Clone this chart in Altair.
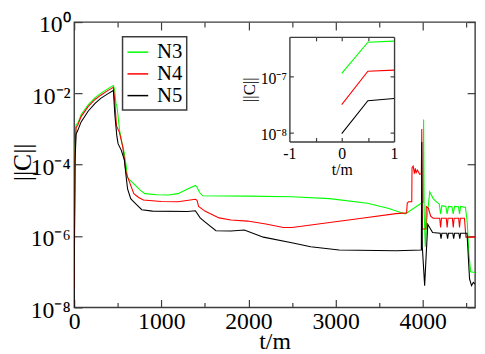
import altair as alt
import pandas as pd

# ---------------- data (t/m and log10 ||C||) ----------------
series_names = ["N3", "N4", "N5"]
series_colors = ["#00ff00", "#ff0000", "#000000"]

t3 = [0, 0.5, 1, 10, 22, 40, 80, 160, 240, 305,
      380, 450, 465, 480, 490, 500, 522, 550, 576, 595,
      613, 650, 703, 760, 812, 950, 1084, 1192, 1301, 1391,
      1410, 1440, 1475, 2000, 2497, 2932, 3366, 3600, 3801, 3982,
      4005, 4010, 4016, 4029, 4045, 4080, 4120, 4160, 4190, 4205,
      4220, 4265, 4280, 4295, 4335, 4350, 4365, 4410, 4422, 4435,
      4490, 4510, 4530, 4550, 4600]
logc3 = [-6.94, -6.38, -6.36, -3.6, -2.87, -2.85, -2.6, -2.32, -2.12, -2.0,
         -1.88, -1.78, -1.9, -2.3, -2.35, -2.55, -3.05, -3.4, -3.68, -4.0,
         -4.36, -4.45, -4.58, -4.72, -4.81, -4.84, -4.85, -4.81, -4.68, -4.58,
         -4.63, -4.78, -4.87, -4.88, -4.90, -4.95, -5.08, -5.22, -5.38, -5.08,
         -5.05, -2.73, -5.3, -6.30, -5.6, -4.76, -4.95, -5.05, -5.1, -5.38,
         -5.15, -5.17, -5.38, -5.17, -5.18, -5.38, -5.17, -5.18, -5.38, -5.17,
         -5.2, -5.6, -6.5, -7.0, -7.02]

t4 = [0, 0.5, 1, 10, 22, 40, 80, 160, 240, 305,
      380, 450, 465, 486, 520, 558, 595, 649, 685, 740,
      794, 1000, 1192, 1391, 1410, 1428, 1500, 1663, 1800, 1989,
      2200, 2400, 2500, 2932, 3300, 3692, 3815, 3822, 3837, 3874,
      3877, 3890, 3905, 3915, 3925, 3940, 3964, 3984, 3989, 3993,
      4036, 4040, 4065, 4091, 4120, 4195, 4205, 4215, 4270, 4280,
      4290, 4340, 4350, 4360, 4412, 4422, 4432, 4479, 4495, 4600]
logc4 = [-7.50, -6.90, -6.88, -3.7, -2.95, -2.9, -2.65, -2.37, -2.17, -2.05,
         -1.93, -1.83, -2.2, -2.91, -3.1, -3.5, -4.22, -4.58, -4.81, -4.92,
         -4.99, -5.03, -5.04, -4.97, -5.0, -5.17, -5.3, -5.49, -5.55, -5.58,
         -5.66, -5.76, -5.76, -5.62, -5.5, -5.37, -5.35, -5.08, -5.04, -5.04,
         -4.08, -4.04, -4.25, -4.1, -4.22, -4.15, -4.27, -4.25, -3.0, -5.80,
         -5.80, -5.17, -5.22, -5.44, -5.5, -5.5, -5.76, -5.5, -5.5, -5.76,
         -5.5, -5.5, -5.76, -5.5, -5.5, -5.76, -5.5, -5.5, -6.03, -6.03]

t5 = [0, 0.5, 1, 10, 22, 40, 80, 160, 240, 305,
      380, 450, 467, 490, 504, 540, 576, 595, 613, 649,
      667, 722, 776, 900, 1301, 1391, 1446, 1500, 1627, 1800,
      1953, 2171, 2497, 2714, 3041, 3692, 3984, 3989, 3995, 4022,
      4040, 4058, 4113, 4200, 4210, 4220, 4275, 4285, 4295, 4345,
      4355, 4365, 4415, 4425, 4435, 4508, 4537, 4560, 4580, 4600]
logc5 = [-8.02, -7.43, -7.39, -3.9, -3.14, -3.05, -2.8, -2.5, -2.28, -2.14,
         -2.02, -1.92, -2.6, -3.2, -3.41, -3.59, -3.86, -4.3, -4.68, -4.95,
         -5.0, -5.13, -5.26, -5.3, -5.31, -5.29, -5.49, -5.6, -5.85, -5.86,
         -5.83, -6.03, -6.19, -6.30, -6.39, -6.41, -6.39, -3.36, -6.3, -7.39,
         -6.5, -5.67, -5.9, -5.92, -6.07, -5.92, -5.92, -6.07, -5.92, -5.92,
         -6.07, -5.92, -5.92, -6.07, -5.92, -5.92, -7.2, -7.39, -7.3, -7.35]

# tick values / labels
x_major = [0, 1000, 2000, 3000, 4000]
x_minor = [500, 1500, 2500, 3500, 4500]
y_major = [1e-8, 1e-6, 1e-4, 1e-2, 1]
y_major_labels = ["10⁻⁸", "10⁻⁶", "10⁻⁴", "10⁻²", "10⁰"]
inset_x_major = [-1, 0, 1]
inset_x_labels = ["-1", "0", "1"]
inset_x_ticks = [-0.5, 0, 0.5]
inset_y_major = [1e-8, 1e-7]
inset_y_labels = ["10⁻⁸", "10⁻⁷"]

rows = []
for name, ts, ls in [("N3", t3, logc3), ("N4", t4, logc4), ("N5", t5, logc5)]:
    for i, (t, l) in enumerate(zip(ts, ls)):
        rows.append({"series": name, "t": t, "C": 10.0 ** l, "i": i})
df = pd.DataFrame(rows)

# ---------------- layout ----------------
W, H = 406, 289
PAD_L, PAD_T = 67, 12
# inset box, in plot pixels
ix0, ix1 = 218, 324
iy0, iy1 = 15, 121
FONT = "Liberation Serif"
FRAME = "#3c3c3c"


def chain_expr(values, labels, log):
    expr = "'" + labels[-1] + "'"
    for v, lab in zip(reversed(values[:-1]), reversed(labels[:-1])):
        thr = v * 3 if log else v + 0.5
        expr = f"datum.value < {thr:g} ? '{lab}' : ({expr})"
    return expr


xs_main = alt.Scale(domain=[0, 4600], nice=False, zero=False)
ys_main = alt.Scale(type="log", domain=[1e-8, 1], nice=False)
xs_in = alt.Scale(domain=[-1, 1], range=[ix0, ix1], nice=False, zero=False)
ys_in = alt.Scale(type="log", domain=[6.9e-9, 5.2e-7], range=[iy1, iy0], nice=False)

color_enc = alt.Color(
    "series:N",
    scale=alt.Scale(domain=series_names, range=series_colors),
    legend=alt.Legend(
        orient="none", legendX=49, legendY=15, title=None,
        labelFont=FONT, labelFontSize=21, labelColor="black",
        symbolType="stroke", symbolSize=441, symbolStrokeWidth=1.5,
        strokeColor=FRAME, fillColor="white", padding=4, rowPadding=-1,
        labelOffset=8,
    ),
)

base = alt.Chart(df)

main = base.mark_line(strokeWidth=1.1, clip=True).encode(
    x=alt.X("t:Q", scale=xs_main, axis=alt.Axis(
        values=x_major, format="d", ticks=False, tickSize=0, domain=False,
        labelFont=FONT, labelFontSize=24, labelPadding=2, labelFlush=False,
        labelOverlap=False, titleFont=FONT,
        title="t/m", titleFontSize=24, titleX=W / 2, titleY=23,
        titleAlign="center", titleBaseline="top")),
    y=alt.Y("C:Q", scale=ys_main, axis=alt.Axis(
        values=y_major, labelExpr=chain_expr(y_major, y_major_labels, True),
        ticks=False, tickSize=0, domain=False, labelFontSize=24, labelPadding=4,
        labelFont=FONT, titleFont=FONT,
        labelOffset=3, labelOverlap=False,
        title="||C||", titleFontSize=26, titleX=-39, titleY=0.49 * H,
        titleAngle=270, titleAlign="center", titleBaseline="bottom")),
    color=color_enc,
    order=alt.Order("i:Q"),
)


def tick_axis(orient, offset, values, size, domain=False):
    return alt.Axis(orient=orient, offset=offset, values=values, tickSize=size,
                    labels=False, domain=domain, title=None, grid=False,
                    tickColor=FRAME, tickWidth=1.2, domainColor=FRAME, domainWidth=1.4)


def tick_layer(xscale, yscale, xaxis, yaxis):
    return base.mark_point(opacity=0).encode(
        x=alt.X("t:Q", scale=xscale, axis=xaxis),
        y=alt.Y("C:Q", scale=yscale, axis=yaxis),
    )


L1 = tick_layer(xs_main, ys_main, tick_axis("top", -H, x_major, 8), tick_axis("right", -W, y_major, 8))
L2 = tick_layer(xs_main, ys_main, tick_axis("bottom", -H, x_major, 8), tick_axis("left", -W, y_major, 8))
L3 = tick_layer(xs_main, ys_main, tick_axis("top", -H, x_minor, 5), None)
L4 = tick_layer(xs_main, ys_main, tick_axis("bottom", -H, x_minor, 5), None)

inset = base.transform_filter("datum.t <= 1").mark_line(strokeWidth=1.1).encode(
    x=alt.X("t:Q", scale=xs_in, axis=alt.Axis(
        orient="bottom", offset=iy1 - H, values=inset_x_major,
        labelExpr=chain_expr(inset_x_major, inset_x_labels, False),
        ticks=False, tickSize=0, domain=True, domainColor=FRAME, domainWidth=1.4,
        labelFont=FONT, titleFont=FONT,
        labelFontSize=16, labelPadding=4, labelFlush=False, labelOverlap=False,
        title="t/m", titleFontSize=16, titleX=(ix0 + ix1) / 2, titleY=20,
        titleAlign="center", titleBaseline="top")),
    y=alt.Y("C:Q", scale=ys_in, axis=alt.Axis(
        orient="left", offset=-ix0, values=inset_y_major,
        labelExpr=chain_expr(inset_y_major, inset_y_labels, True),
        ticks=False, tickSize=0, domain=True, domainColor=FRAME, domainWidth=1.4,
        labelFont=FONT, titleFont=FONT,
        labelFontSize=16, labelPadding=3, labelOffset=2, labelOverlap=False,
        title="||C||", titleFontSize=17, titleX=-31, titleY=(iy0 + iy1) / 2,
        titleAngle=270, titleAlign="center", titleBaseline="bottom")),
    color=alt.Color("series:N", scale=alt.Scale(domain=series_names, range=series_colors)),
    order=alt.Order("i:Q"),
)

IT1 = tick_layer(xs_in, ys_in, tick_axis("top", -iy1, inset_x_ticks, 4),
                 tick_axis("right", ix0 - W, inset_y_major, 4))
IT2 = tick_layer(xs_in, ys_in, tick_axis("bottom", iy0 - H, inset_x_ticks, 4, domain=True),
                 tick_axis("left", -ix1, inset_y_major, 4, domain=True))

chart = alt.layer(main, L1, L2, L3, L4, inset, IT1, IT2).resolve_scale(
    x="independent", y="independent", color="shared"
).properties(
    width=W, height=H,
    autosize=alt.AutoSizeParams(type="none"),
    padding={"left": PAD_L, "top": PAD_T, "right": 2, "bottom": 48},
).configure_view(
    stroke=FRAME, strokeWidth=1.4
).configure_axis(
    labelFont=FONT, titleFont=FONT, titleFontWeight="normal",
    labelColor="black", titleColor="black", grid=False,
).configure_legend(
    strokeWidth=1.5
)

chart.save("out.html", embed_options={"renderer": "svg", "actions": False})
